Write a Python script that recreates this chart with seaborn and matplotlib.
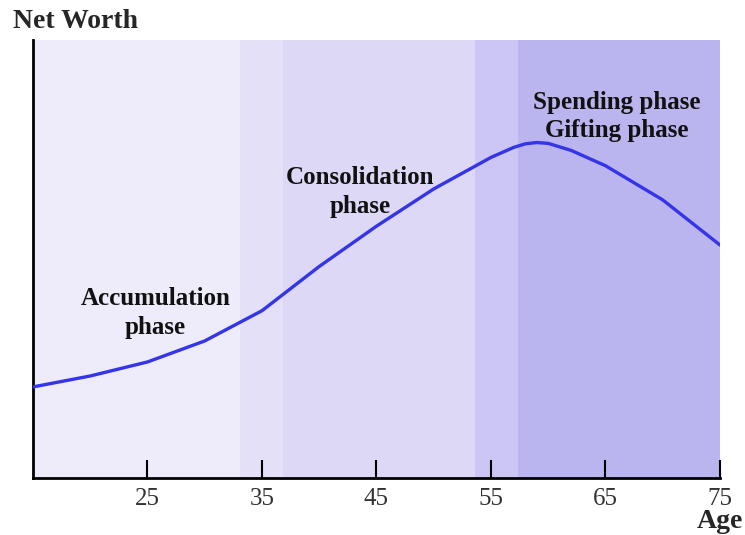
import matplotlib
matplotlib.use('Agg')
import matplotlib.pyplot as plt
import pandas as pd
import seaborn as sns

# Datos (edad vs. patrimonio, escala 0-100)
ages = [15, 20, 25, 30, 35, 40, 45, 50, 55, 57, 58, 59, 60, 62, 65, 70, 75]
net_worth = [20.8, 23.3, 26.5, 31.3, 38.2, 48.3, 57.5, 66.0, 73.2, 75.5, 76.3, 76.6, 76.4, 74.8, 71.3, 63.5, 53.2]
tick_ages = [25, 35, 45, 55, 65, 75]

# Bandas de fondo
band_edges = [15, 33.1, 36.8, 53.6, 57.4, 75]
band_colors = ['#eeecfa', '#e3e0f8', '#dcd8f6', '#cbc6f3', '#bbb5ef']

phase_labels = ['Accumulation\nphase', 'Consolidation\nphase', 'Spending phase\nGifting phase']
phase_x = [25.7, 43.6, 66.0]
phase_y = [37.7, 65.3, 82.6]

df = pd.DataFrame({'age': ages, 'net_worth': net_worth})

sns.set_style('ticks')
plt.rcParams['font.family'] = ['Liberation Serif', 'DejaVu Serif']

fig = plt.figure(figsize=(7.45, 5.35), dpi=100)
ax = fig.add_axes([0.0443, 0.1065, 0.9221, 0.8187])

for i in range(len(band_colors)):
    ax.axvspan(band_edges[i], band_edges[i + 1], color=band_colors[i], lw=0, zorder=0)

sns.lineplot(data=df, x='age', y='net_worth', ax=ax, color='#3434e8', linewidth=2.4, zorder=3)

for lab, x, y in zip(phase_labels, phase_x, phase_y):
    ax.text(x, y, lab, ha='center', va='center', fontsize=18, fontweight='bold',
            linespacing=1.3, color='#111111', zorder=4)

ax.set_xlim(15, 75)
ax.set_ylim(0, 100)
ax.set_xticks(tick_ages)
ax.set_xticklabels([str(a) for a in tick_ages], fontsize=18, color='#333333')
ax.set_yticks([])
ax.tick_params(axis='x', direction='in', length=13, width=1.5, color='black', pad=7)
ax.set_xlabel('')
ax.set_ylabel('')

for s in ['top', 'right']:
    ax.spines[s].set_visible(False)
for s in ['left', 'bottom']:
    ax.spines[s].set_color('black')
    ax.spines[s].set_linewidth(2)

fig.text(0.017, 0.96, 'Net Worth', fontsize=20, fontweight='bold', ha='left', va='center')
fig.text(0.997, 0.025, 'Age', fontsize=20, fontweight='bold', ha='right', va='center')

fig.savefig('out.png', dpi=100)
